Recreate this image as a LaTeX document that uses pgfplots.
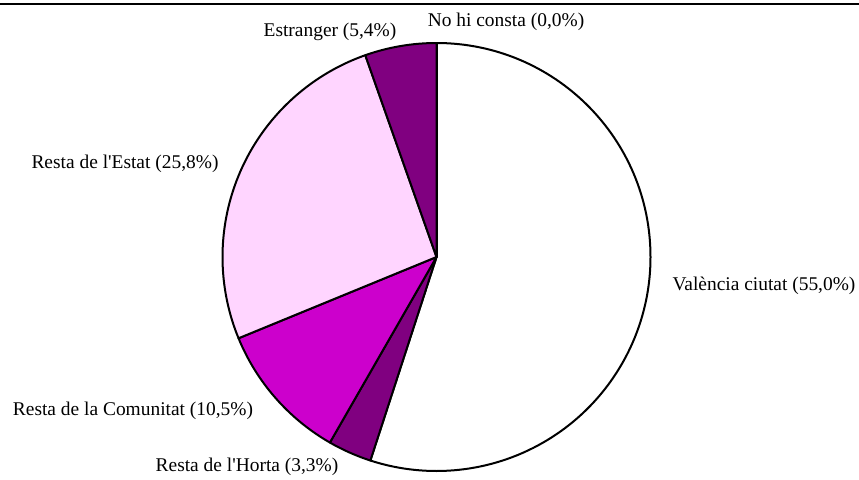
\documentclass[border=0pt]{standalone}
\usepackage{pgfplots}
\pgfplotsset{compat=1.18}
\usepackage{pgfplotstable}
\usepackage{fontspec}
\setmainfont{Liberation Serif}

\definecolor{purp}{HTML}{800080}
\definecolor{mag}{HTML}{CC00CC}
\definecolor{lpink}{HTML}{FFD5FF}

% slices clockwise from the top; lx, ly = label centre in picture pixels
\pgfplotstableread[col sep=semicolon]{
label;value;fill;lx;ly
València ciutat (55,0\%);55.0;white;764;286
Resta de l\textquotesingle Horta (3,3\%);3.3;purp;247;467
Resta de la Comunitat (10,5\%);10.5;mag;133;411
Resta de l\textquotesingle Estat (25,8\%);25.8;lpink;125;164
Estranger (5,4\%);5.4;purp;330;32
No hi consta (0,0\%);0.0;white;506;22
}\piedata

\begin{document}
\begin{tikzpicture}
\begin{axis}[
  scale only axis,
  width=515.4bp, height=288bp,
  xmin=0, xmax=859, ymin=0, ymax=480,
  y dir=reverse,
  hide axis,
  clip=false,
]
\coordinate (tl) at (axis cs:0,0);
\coordinate (br) at (axis cs:859,480);

% rule across the top of the page
\draw[line width=1.3bp] (axis cs:0,4) -- (axis cs:859,4);

% wedges
\def\startang{90}
\pgfplotsforeachungrouped \i in {0,...,5}{%
  \pgfplotstablegetelem{\i}{value}\of\piedata \let\val\pgfplotsretval
  \pgfplotstablegetelem{\i}{fill}\of\piedata \let\col\pgfplotsretval
  \pgfmathsetmacro\endang{\startang-3.6*\val}
  \edef\tmp{\noexpand\filldraw[fill=\col, draw=black, line width=1.2bp, line join=round]
    (axis cs:436.5,257) -- ++(\startang:128.4bp)
    arc[start angle=\startang, end angle=\endang, radius=128.4bp] -- cycle;}
  \tmp
  \global\let\startang\endang
}

% labels
\addplot[draw=none, nodes near coords={\pgfplotspointmeta},
  point meta=explicit symbolic,
  nodes near coords style={anchor=center, inner sep=0pt,
    font=\fontsize{11.7}{14}\selectfont}]
  table[x=lx, y=ly, meta=label] {\piedata};
\end{axis}
\pgfresetboundingbox
\path[use as bounding box] (tl) rectangle (br);
\end{tikzpicture}
\end{document}
